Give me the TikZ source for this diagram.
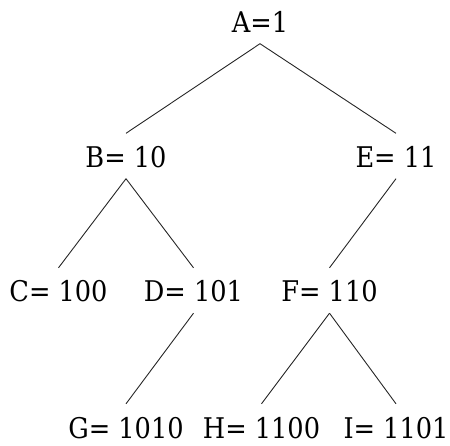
\documentclass[tikz,border=0pt]{standalone}
\usepackage{fontspec}
\setmainfont{DejaVu Serif Condensed}
\begin{document}
\begin{tikzpicture}[x=1pt,y=-1pt,
  lbl/.style={anchor=base,inner xsep=0pt,inner ysep=11pt,text height=23pt,text depth=0pt,font=\fontsize{28.5}{34}\selectfont},
  edge/.style={draw=black!85,line width=0.9pt}]
\useasboundingbox (0,0) rectangle (450,446);
\node[lbl] (A) at (260,32.5) {A=1};
\node[lbl] (B) at (126,167.5) {B= 10};
\node[lbl] (E) at (396,167.5) {E= 11};
\node[lbl] (C) at (58.5,302) {C= 100};
\node[lbl] (D) at (193.5,302) {D= 101};
\node[lbl] (F) at (329.5,302) {F= 110};
\node[lbl] (G) at (126,438) {G= 1010};
\node[lbl] (H) at (261.5,438) {H= 1100};
\node[lbl] (I) at (396,438) {I= 1101};
\draw[edge] (A.south) -- (B.north);
\draw[edge] (A.south) -- (E.north);
\draw[edge] (B.south) -- (C.north);
\draw[edge] (B.south) -- (D.north);
\draw[edge] (E.south) -- (F.north);
\draw[edge] (D.south) -- (G.north);
\draw[edge] (F.south) -- (H.north);
\draw[edge] (F.south) -- (I.north);
\end{tikzpicture}
\end{document}
